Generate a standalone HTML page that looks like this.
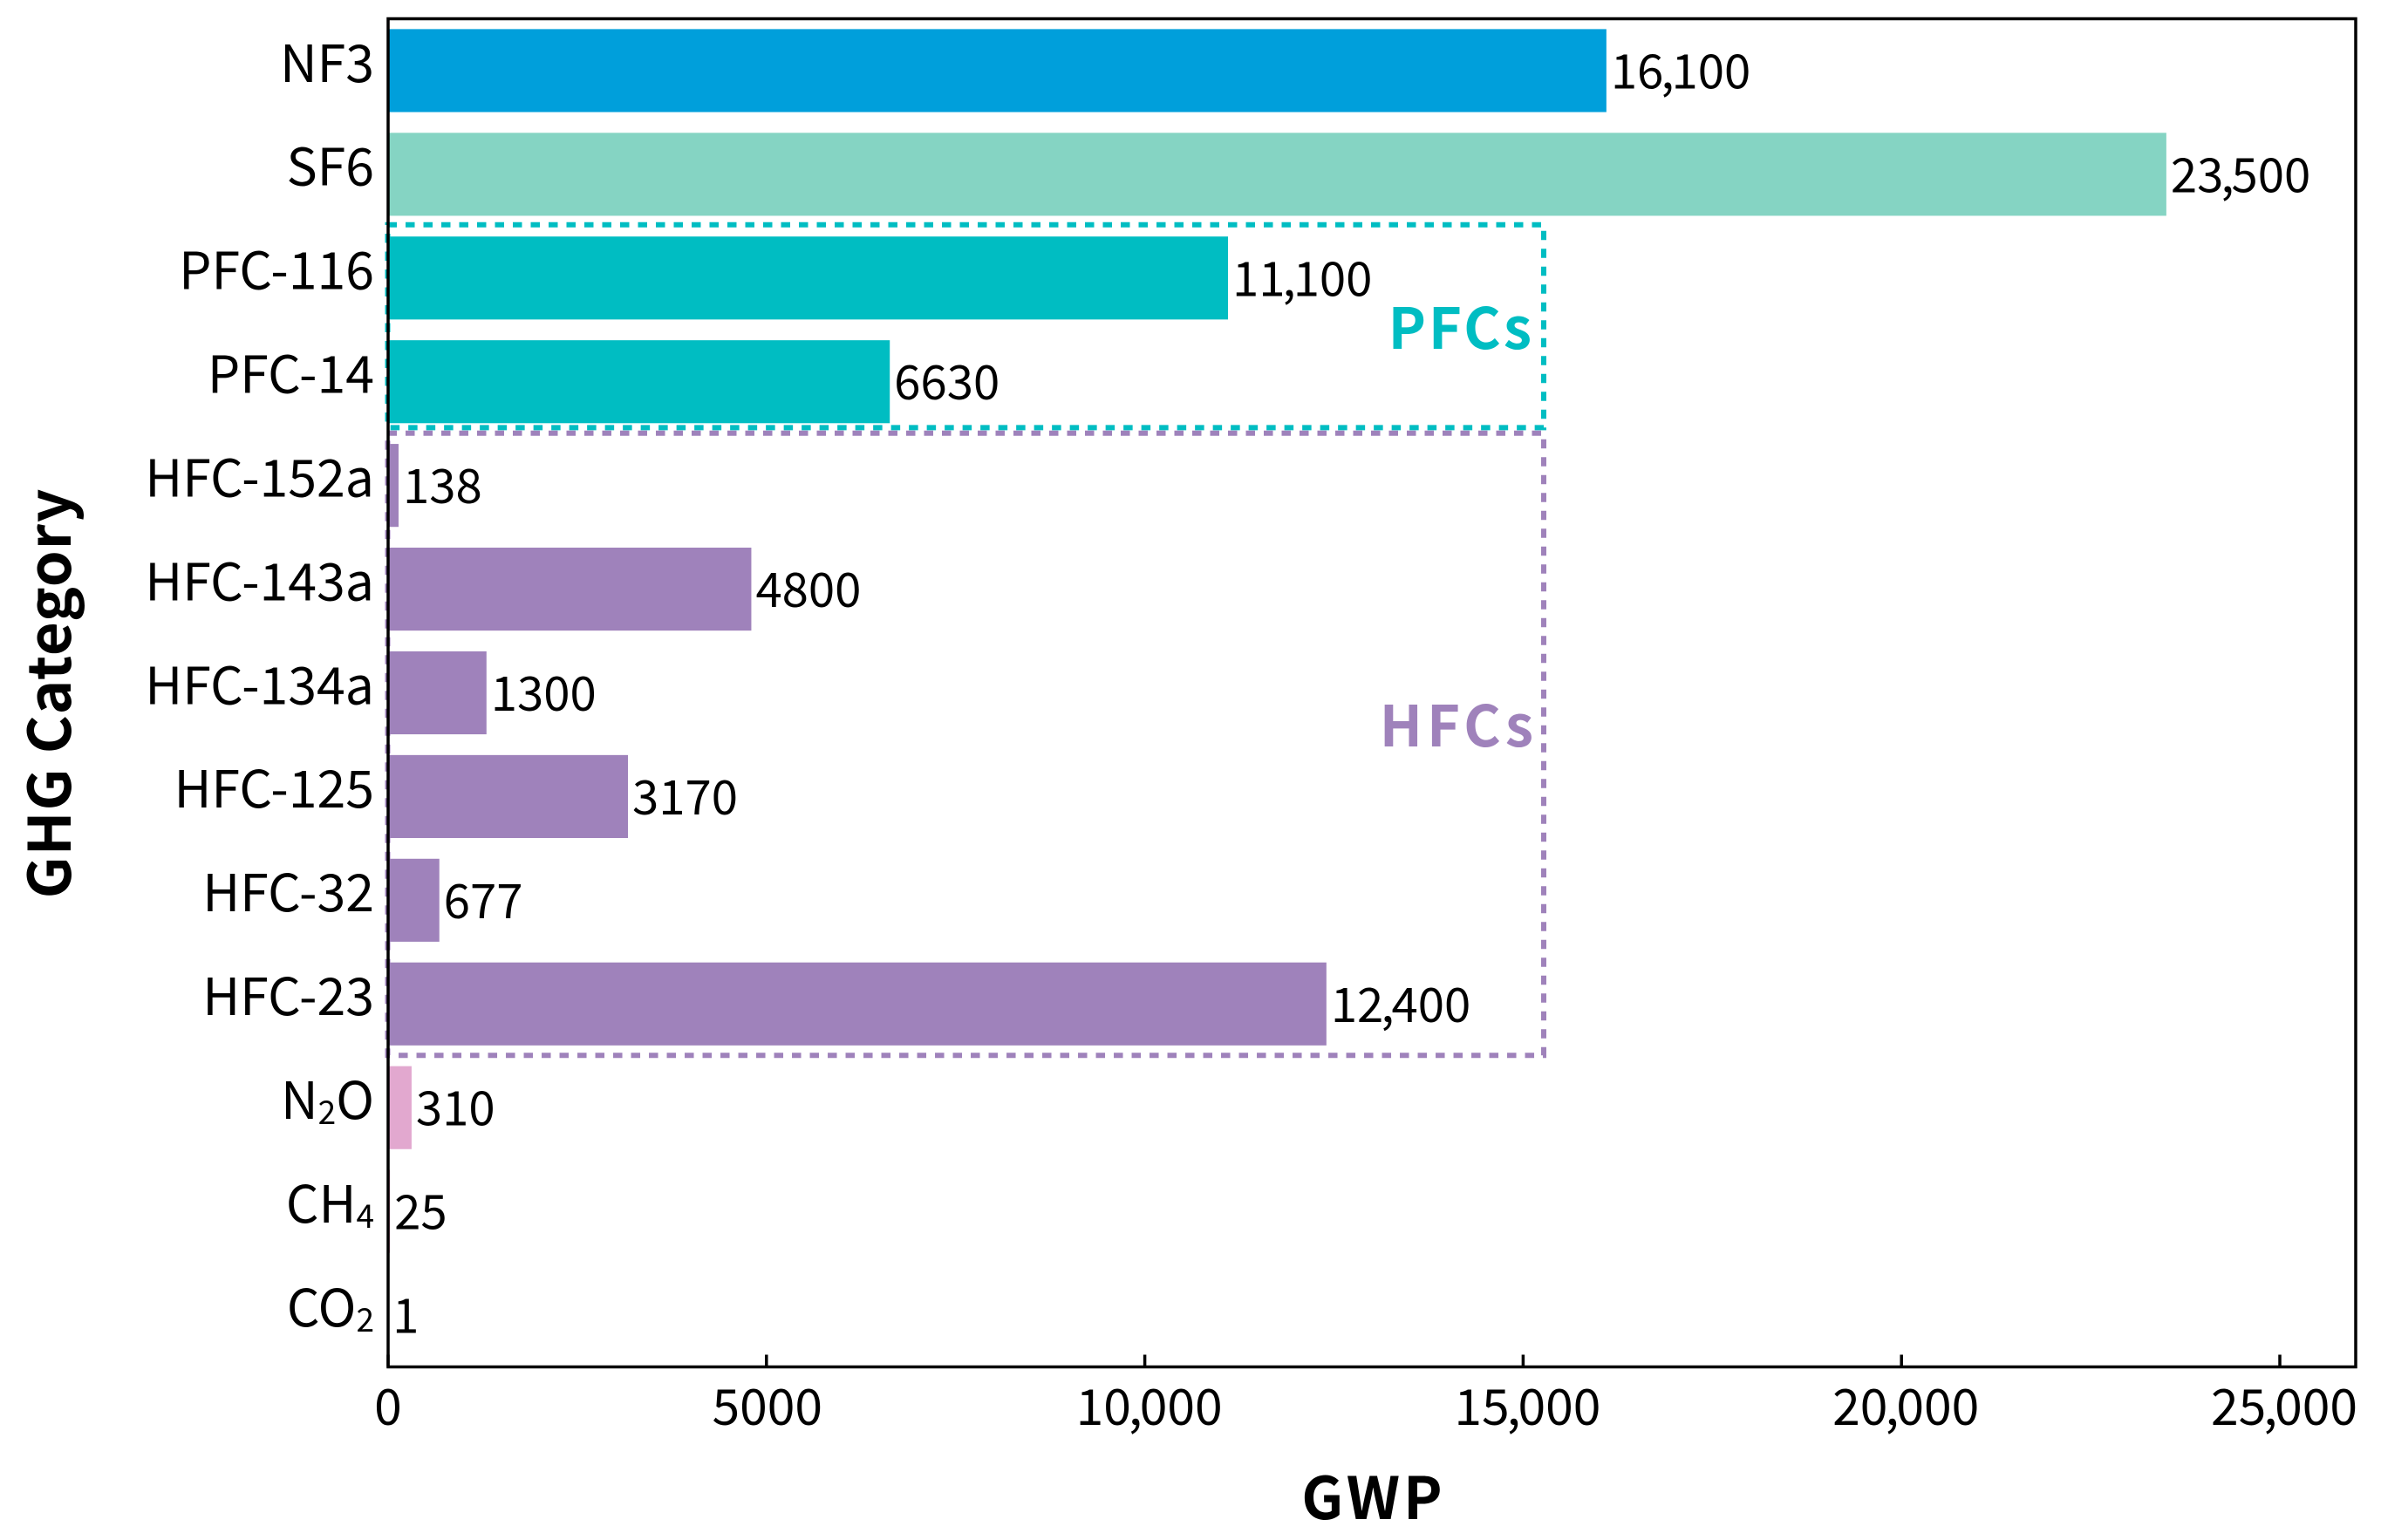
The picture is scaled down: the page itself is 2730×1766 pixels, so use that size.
<!DOCTYPE html>
<html lang="en">
<head>
<meta charset="utf-8">
<title>GWP by GHG Category</title>
<style>
html,body{margin:0;padding:0;background:#fff;}
svg{display:block;}
text{font-family:"Noto Sans CJK SC","Liberation Sans",sans-serif;fill:#000;}
.cat{font-size:59px;text-anchor:end;}
.val{font-size:54.5px;}
.tick{font-size:57px;text-anchor:middle;}
.title{font-size:67px;font-weight:700;text-anchor:middle;}
.group{font-size:65px;font-weight:700;text-anchor:end;}
</style>
</head>
<body>
<svg id="chart" xmlns="http://www.w3.org/2000/svg" width="2730" height="1766" viewBox="0 0 2730 1766">
  <rect x="0" y="0" width="2730" height="1766" fill="#fff"/>
</svg>
<script>
const categories = ['NF3','SF6','PFC-116','PFC-14','HFC-152a','HFC-143a','HFC-134a','HFC-125','HFC-32','HFC-23','N2O','CH4','CO2'];
const gwpValues = [16100,23500,11100,6630,138,4800,1300,3170,677,12400,310,25,1];
const valueLabels = ['16,100','23,500','11,100','6630','138','4800','1300','3170','677','12,400','310','25','1'];
const categoryGroups = ['nf3','sf6','pfc','pfc','hfc','hfc','hfc','hfc','hfc','hfc','n2o','ch4','co2'];
const xTickValues = [0,5000,10000,15000,20000,25000];
const xTickLabels = ['0','5000','10,000','15,000','20,000','25,000'];

const groupColor = {nf3:'#009FDB',sf6:'#85D4C3',pfc:'#00BDC2',hfc:'#9F82BB',n2o:'#E2A8CF',ch4:'#E58FB5',co2:'#C9A0C0'};
const plot = {left:445,right:2701,top:21.5,bottom:1567.5};
const xMaxAtTick = 25000;
const xPxAtMax = 2614;
const svg = document.getElementById('chart');
const NS = 'http://www.w3.org/2000/svg';

function xScale(v){ return plot.left + (xPxAtMax - plot.left) * v / xMaxAtTick; }
function bandStep(){ return (plot.bottom - plot.top) / categories.length; }
function bandCenter(i){ return plot.top + bandStep() * (i + 0.5); }
function bandEdge(i){ return plot.top + bandStep() * i; }
function make(tag, attrs, parent){
  const el = document.createElementNS(NS, tag);
  for (const k in attrs) el.setAttribute(k, attrs[k]);
  (parent || svg).appendChild(el);
  return el;
}
function slug(s){ return s.toLowerCase().replace(/[^a-z0-9]+/g,'-'); }
/* writes a number with a tight comma, as in the reference font */
function writeNumber(el, txt, tighten){
  const at = txt.indexOf(',');
  if (at < 0) { el.textContent = txt; return; }
  el.appendChild(document.createTextNode(txt.slice(0, at)));
  const comma = make('tspan',{dx:-tighten},el);
  comma.textContent = ',';
  const rest = make('tspan',{dx:-tighten},el);
  rest.textContent = txt.slice(at + 1);
}

/* bars */
categories.forEach(function(cat,i){
  const h = bandStep() * 0.8;
  const bar = make('rect',{x:plot.left,y:bandCenter(i)-h/2,width:Math.max(xScale(gwpValues[i])-plot.left,0.2),height:h,fill:groupColor[categoryGroups[i]]});
  
  
});

/* group boxes */
const boxRightValue = 15272;
function drawBox(name, firstIdx, lastIdx, color, topOffset, bottomOffset){
  const y0 = bandEdge(firstIdx) + topOffset;
  const y1 = bandEdge(lastIdx + 1) + bottomOffset;
  const x0 = plot.left - 0.5;
  const x1 = xScale(boxRightValue);
  const box = make('path',{d:'M'+x0+' '+y0+'H'+x1+'V'+y1+'H'+x0+'Z',fill:'none',stroke:color,'stroke-width':6,'stroke-dasharray':'10.5 10'});
  
  
}
drawBox('pfc-group-box', categoryGroups.indexOf('pfc'), categoryGroups.lastIndexOf('pfc'), groupColor.pfc, -1.6, -6.8);
drawBox('hfc-group-box', categoryGroups.indexOf('hfc'), categoryGroups.lastIndexOf('hfc'), groupColor.hfc, -0.5, -0.5);

/* frame */
const frame = make('rect',{x:plot.left,y:plot.top,width:plot.right-plot.left,height:plot.bottom-plot.top,fill:'none',stroke:'#000','stroke-width':3.5});



/* x axis ticks */
xTickValues.forEach(function(v,i){
  const x = xScale(v);
  const t = make('line',{x1:x,x2:x,y1:plot.bottom-14,y2:plot.bottom,stroke:'#000','stroke-width':3.5});
  
  
  const labelShift = xTickLabels[i].indexOf(',') >= 0 ? 5 : (v ? 1 : 0);
  const lab = make('text',{class:'tick',x:x + labelShift,y:1634});
  writeNumber(lab, xTickLabels[i], 3);
  
  
});

/* category labels with subscripts */
categories.forEach(function(cat,i){
  const lab = make('text',{class:'cat',x:429,y:bandCenter(i)+12.8});
  
  
  const m = /^(N|CH|CO)(\d)(O?)$/.exec(cat);
  if (m) {
    lab.appendChild(document.createTextNode(m[1]));
    const sub = make('tspan',{'font-size':37,dy:6},lab);
    sub.textContent = m[2];
    if (m[3]) {
      const rest = make('tspan',{dy:-6},lab);
      rest.textContent = m[3];
    }
  } else {
    lab.textContent = cat;
  }
});

/* value labels */
valueLabels.forEach(function(txt,i){
  const lab = make('text',{class:'val',x:xScale(gwpValues[i])+5,y:bandCenter(i)+20.5});
  writeNumber(lab, txt, 3);
  
  
});

/* axis titles */
const xTitle = make('text',{class:'title',x:1575,y:1742,'letter-spacing':4});
xTitle.textContent = 'GWP';


const yTitle = make('text',{class:'title',transform:'translate(81 795) rotate(-90)','letter-spacing':1});
yTitle.textContent = 'GHG Category';



/* group captions */
const pfcCaption = make('text',{class:'group',x:1759,y:400,'letter-spacing':3});
pfcCaption.style.fill = groupColor.pfc;
pfcCaption.textContent = 'PFCs';


const hfcCaption = make('text',{class:'group',x:1763,y:856,'letter-spacing':5});
hfcCaption.style.fill = groupColor.hfc;
hfcCaption.textContent = 'HFCs';


</script>
</body>
</html>
